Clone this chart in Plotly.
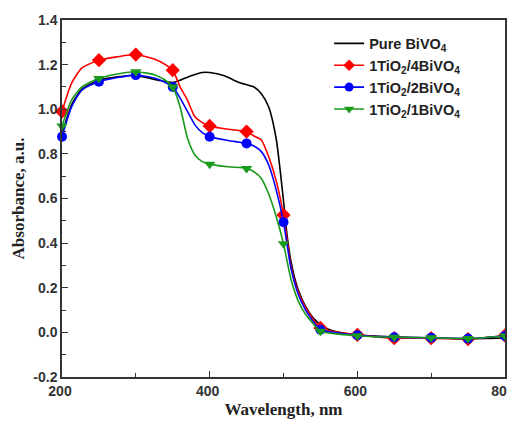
import plotly.graph_objects as go

# ---- data ----
wl_black = [200, 213, 227, 250, 275, 300, 330, 350, 360, 375, 390, 400, 420, 440, 460, 470, 480, 490, 495, 500,
            505, 510, 515, 520, 530, 540, 550, 560, 575, 600, 650, 700, 750, 800]
abs_black = [0.89, 1.02, 1.09, 1.13, 1.145, 1.152, 1.13, 1.12, 1.13, 1.15, 1.165, 1.165, 1.15, 1.12, 1.10, 1.07, 1.01, 0.87, 0.74, 0.59,
             0.43, 0.32, 0.245, 0.19, 0.115, 0.065, 0.035, 0.015, 0.0, -0.012, -0.02, -0.025, -0.028, -0.025]

wl_s = [200, 213, 227, 250, 275, 300, 325, 340, 350, 360, 370, 380, 390, 400, 425, 450, 460, 470, 480, 490, 500,
        510, 520, 530, 540, 550, 575, 600, 650, 700, 750, 800]
abs_red = [0.99, 1.117, 1.185, 1.22, 1.235, 1.245, 1.225, 1.20, 1.175, 1.10, 1.04, 0.966, 0.94, 0.925, 0.91, 0.90, 0.88, 0.862, 0.787, 0.68, 0.526,
           0.30, 0.18, 0.11, 0.06, 0.02, 0.0, -0.011, -0.026, -0.026, -0.03, -0.014]
abs_blue = [0.877, 1.011, 1.086, 1.123, 1.142, 1.153, 1.14, 1.12, 1.10, 1.05, 0.99, 0.93, 0.895, 0.877, 0.86, 0.847, 0.835, 0.81, 0.75, 0.64, 0.494,
            0.29, 0.17, 0.10, 0.05, 0.012, -0.003, -0.013, -0.022, -0.024, -0.028, -0.016]
abs_green = [0.925, 1.041, 1.10, 1.138, 1.158, 1.168, 1.155, 1.13, 1.10, 1.01, 0.87, 0.795, 0.765, 0.754, 0.742, 0.735, 0.72, 0.69, 0.62, 0.52, 0.397,
             0.24, 0.14, 0.08, 0.04, 0.005, -0.008, -0.015, -0.022, -0.024, -0.028, -0.016]

names = ["Pure BiVO<sub>4</sub>", "1TiO<sub>2</sub>/4BiVO<sub>4</sub>",
         "1TiO<sub>2</sub>/2BiVO<sub>4</sub>", "1TiO<sub>2</sub>/1BiVO<sub>4</sub>"]
colors = ["#000000", "#ff0000", "#0000ff", "#1a9a1a"]
symbols = [None, "diamond", "circle", "triangle-down"]

x_ticks = [200, 400, 600, 800]
y_ticks = [-0.2, 0.0, 0.2, 0.4, 0.6, 0.8, 1.0, 1.2, 1.4]
y_ticktext = ["-0.2", "0.0", "0.2", "0.4", "0.6", "0.8", "1.0", "1.2", "1.4"]

fig = go.Figure()

series = [(wl_black, abs_black), (wl_s, abs_red), (wl_s, abs_blue), (wl_s, abs_green)]
for i, (xs, ys) in enumerate(series):
    fig.add_trace(go.Scatter(x=xs, y=ys, mode="lines", line=dict(color=colors[i], width=1.6, shape="spline", smoothing=0.6),
                             showlegend=False, hoverinfo="skip"))
    if symbols[i]:
        mx = [x for x in xs if x % 50 == 0]
        my = [y for x, y in zip(xs, ys) if x % 50 == 0]
        fig.add_trace(go.Scatter(x=mx, y=my, mode="markers", cliponaxis=False,
                                 marker=dict(color=colors[i], symbol=symbols[i], size=11 if i == 1 else 10),
                                 showlegend=False))

# legend-only traces
for i in range(4):
    if symbols[i]:
        fig.add_trace(go.Scatter(x=[None], y=[None], mode="lines+markers", name=names[i],
                                 line=dict(color=colors[i], width=1.6),
                                 marker=dict(color=colors[i], symbol=symbols[i], size=9)))
    else:
        fig.add_trace(go.Scatter(x=[None], y=[None], mode="lines", name=names[i],
                                 line=dict(color=colors[i], width=1.6)))

axis_common = dict(showline=True, linecolor="#333333", linewidth=1.5, mirror=True, ticks="inside",
                   ticklen=6, tickwidth=1.3, tickcolor="#333333", showgrid=False, zeroline=False,
                   automargin=False, ticklabeloverflow="allow",
                   tickfont=dict(family="Liberation Sans", size=14, color="#333333", weight="bold"))

# the page body has an 8px margin, so the figure is sized to fit the 515x424 window
fig.update_layout(
    width=507, height=414,
    margin=dict(l=54, r=10, t=12, b=45),
    paper_bgcolor="white", plot_bgcolor="white",
    xaxis=dict(range=[200, 800], tickvals=x_ticks, ticklabelshift=-2,
               minor=dict(ticks="inside", ticklen=4, tickwidth=1.2, tickcolor="#333333", dtick=100),
               title=dict(text="Wavelength, nm", font=dict(family="Liberation Serif", size=17, color="#222222", weight="bold"),
                          standoff=6),
               **axis_common),
    yaxis=dict(range=[-0.2, 1.4], tickvals=y_ticks, ticktext=y_ticktext,
               minor=dict(ticks="inside", ticklen=4, tickwidth=1.2, tickcolor="#333333", dtick=0.1),
               title=dict(text="Absorbance, a.u.", font=dict(family="Liberation Serif", size=17, color="#222222", weight="bold"),
                          standoff=4),
               **axis_common),
    legend=dict(x=0.603, y=0.979, xanchor="left", yanchor="top", bgcolor="rgba(0,0,0,0)",
                font=dict(family="Liberation Sans", size=14.5, color="#222222", weight="bold"),
                tracegroupgap=0, itemwidth=30),
    showlegend=True,
)

fig.write_html("out.html")
